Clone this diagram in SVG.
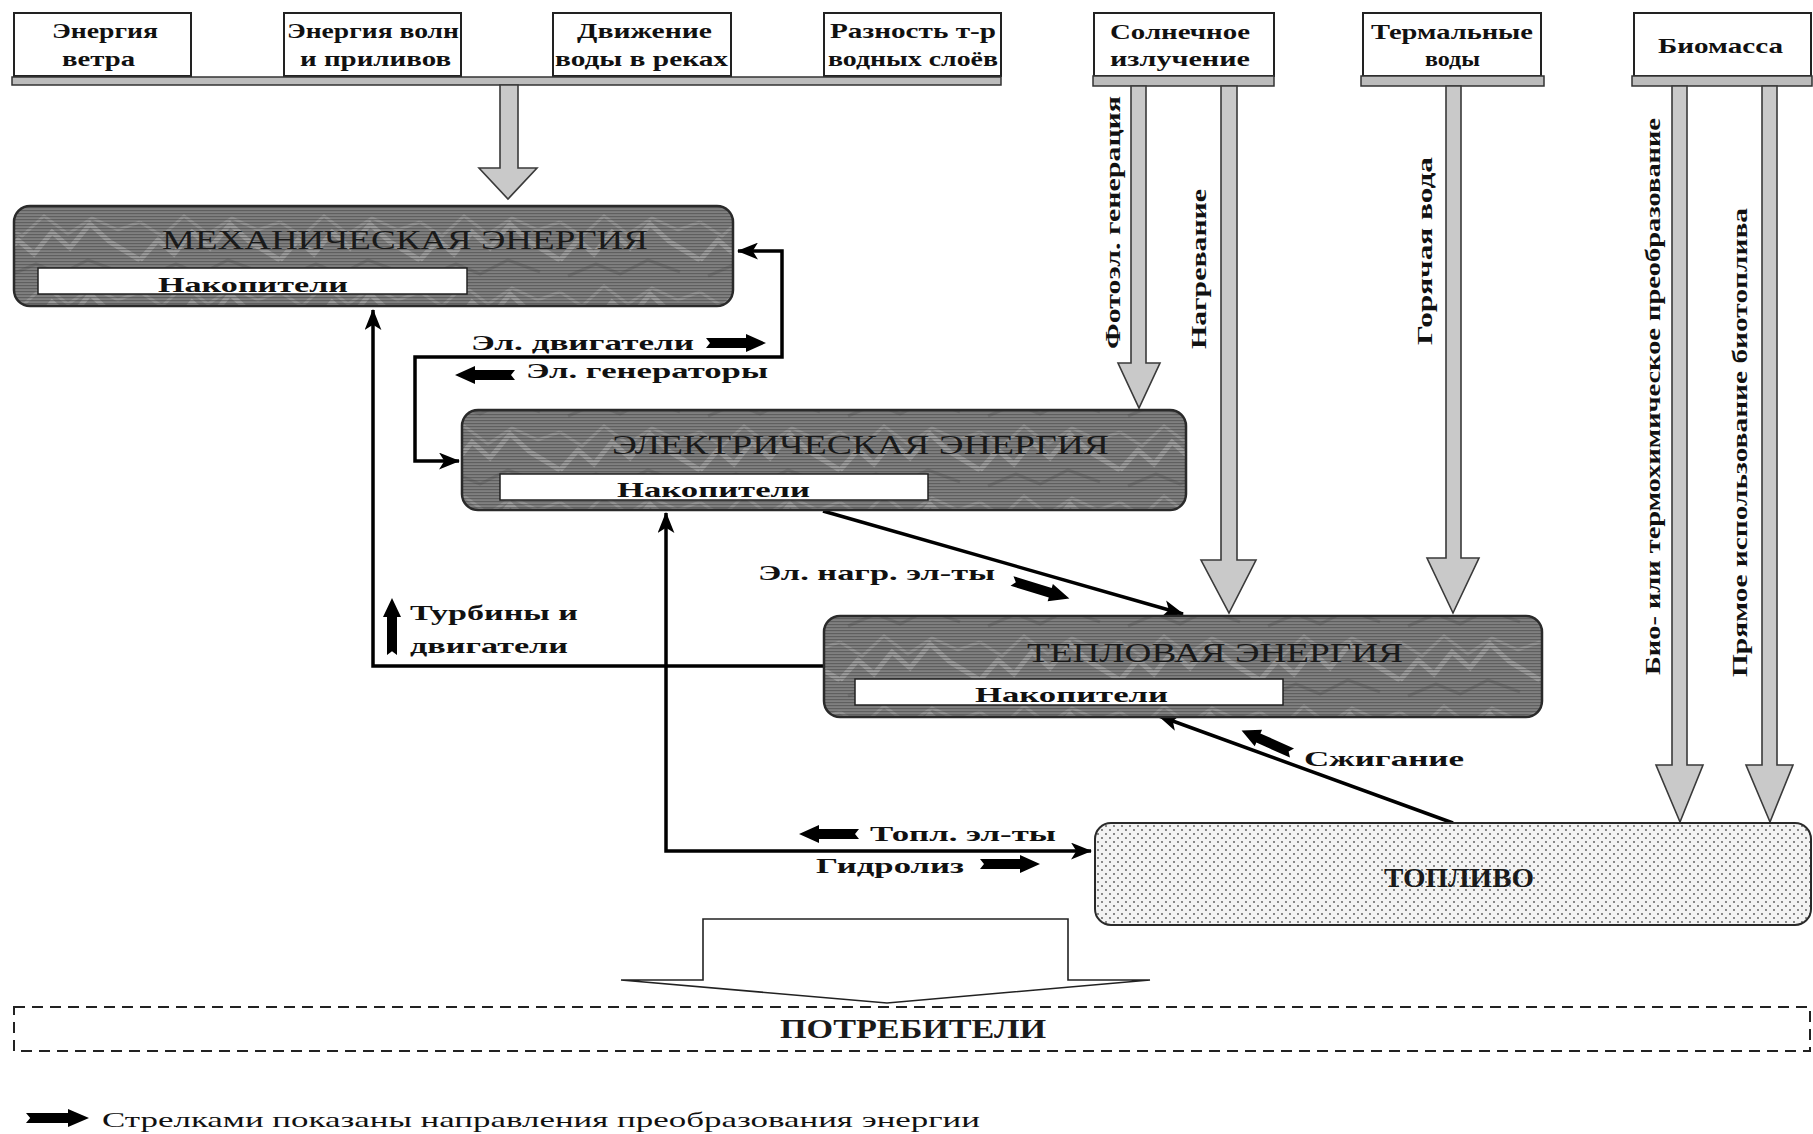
<svg xmlns="http://www.w3.org/2000/svg" width="1813" height="1134" viewBox="0 0 1813 1134">
<style>
.src{fill:#fff;stroke:#222;stroke-width:2}
.bar{fill:#bcbcbc;stroke:#333;stroke-width:1.5}
.garrow{fill:#c9c9c9;stroke:#3a3a3a;stroke-width:1.6;stroke-linejoin:miter}
.t{font-family:"Liberation Serif","DejaVu Serif",serif;fill:#111}
.st{font-size:21px;font-weight:bold}
.title{font-size:28px;fill:#1a1a1a}
.acc{fill:#fff;stroke:#222;stroke-width:1.5}
.boxfill{fill:url(#stone)}
.boxlines{fill:url(#hlines);stroke:#2a2a2a;stroke-width:2.5}
.conn{fill:none;stroke:#000;stroke-width:3.5}
.lbl{font-size:22px;font-weight:bold}
.fat{fill:#000}
</style>
<defs>
<pattern id="stone" width="140" height="70" patternUnits="userSpaceOnUse">
<rect width="140" height="70" fill="#808080"/>
<path d="M0,50 L18,30 L34,44 L52,22 L70,38 L90,14 L110,32 L140,50" stroke="#b2b2b2" stroke-width="5" fill="none" opacity="0.6"/>
<path d="M0,12 L22,26 L44,6 L68,24 L92,8 L118,20 L140,12" stroke="#a6a6a6" stroke-width="3" fill="none" opacity="0.55"/>
<path d="M8,66 L36,54 L60,64 L88,50 L120,62" stroke="#666" stroke-width="3" fill="none" opacity="0.6"/>
</pattern>
<pattern id="hlines" width="6" height="3" patternUnits="userSpaceOnUse">
<rect width="6" height="1.2" fill="#3e3e3e" opacity="0.5"/>
</pattern>
<pattern id="dots" width="8" height="8" patternUnits="userSpaceOnUse">
<rect width="8" height="8" fill="#f3f3f3"/>
<circle cx="2" cy="2" r="0.9" fill="#555"/>
<circle cx="6" cy="6" r="0.9" fill="#555"/>
</pattern>
<marker id="ah" viewBox="0 0 20 16" refX="19" refY="8" markerWidth="21" markerHeight="17" markerUnits="userSpaceOnUse" orient="auto-start-reverse">
<path d="M0,0 L20,8 L0,16 L5,8 Z" fill="#000"/>
</marker>
<path id="fat" d="M0,-5 L40,-5 L40,-9 L60,0 L40,9 L40,5 L0,5 L4,0 Z"/>
</defs>

<g id="sources">
<g id="src-wind"><rect class="src" x="14" y="13" width="177" height="63"/>
<text class="t st" x="52" y="38" textLength="106" lengthAdjust="spacingAndGlyphs">Энергия</text>
<text class="t st" x="62" y="66" textLength="73" lengthAdjust="spacingAndGlyphs">ветра</text></g>
<g id="src-waves"><rect class="src" x="284" y="13" width="177" height="63"/>
<text class="t st" x="287" y="38" textLength="172" lengthAdjust="spacingAndGlyphs">Энергия волн</text>
<text class="t st" x="300" y="66" textLength="151" lengthAdjust="spacingAndGlyphs">и приливов</text></g>
<g id="src-rivers"><rect class="src" x="553" y="13" width="178" height="63"/>
<text class="t st" x="577" y="38" textLength="135" lengthAdjust="spacingAndGlyphs">Движение</text>
<text class="t st" x="555" y="66" textLength="173" lengthAdjust="spacingAndGlyphs">воды в реках</text></g>
<g id="src-temp"><rect class="src" x="824" y="13" width="177" height="63"/>
<text class="t st" x="830" y="38" textLength="166" lengthAdjust="spacingAndGlyphs">Разность т-р</text>
<text class="t st" x="828" y="66" textLength="170" lengthAdjust="spacingAndGlyphs">водных слоёв</text></g>
<rect class="bar" x="12" y="77" width="989" height="8"/>
<polygon class="garrow" points="500,85 518,85 518,168 537,168 508,199 479,168 500,168"/>

<g id="src-solar"><rect class="src" x="1094" y="13" width="180" height="63"/>
<text class="t st" x="1110" y="39" textLength="140" lengthAdjust="spacingAndGlyphs">Солнечное</text>
<text class="t st" x="1110" y="66" textLength="140" lengthAdjust="spacingAndGlyphs">излучение</text>
<rect class="bar" x="1093" y="76" width="181" height="10"/></g>
<g id="src-thermalwater"><rect class="src" x="1363" y="13" width="178" height="63"/>
<text class="t st" x="1371" y="39" textLength="162" lengthAdjust="spacingAndGlyphs">Термальные</text>
<text class="t st" x="1425" y="66" textLength="55" lengthAdjust="spacingAndGlyphs">воды</text>
<rect class="bar" x="1361" y="76" width="183" height="10"/></g>
<g id="src-biomass"><rect class="src" x="1634" y="13" width="177" height="63"/>
<text class="t st" x="1658" y="53" textLength="125" lengthAdjust="spacingAndGlyphs">Биомасса</text>
<rect class="bar" x="1632" y="76" width="180" height="10"/></g>

<polygon class="garrow" points="1131,86 1146,86 1146,363 1160,363 1139,408 1118,363 1131,363"/>
<polygon class="garrow" points="1221,86 1237,86 1237,560 1256,560 1229,613 1201,560 1221,560"/>
<polygon class="garrow" points="1446,86 1461,86 1461,558 1479,558 1453,613 1427,558 1446,558"/>
<polygon class="garrow" points="1672,86 1687,86 1687,765 1703,765 1680,822 1656,765 1672,765"/>
<polygon class="garrow" points="1762,86 1777,86 1777,765 1793,765 1770,822 1746,765 1762,765"/>

<text class="t lbl" transform="translate(1120,349) rotate(-90)" textLength="253" lengthAdjust="spacingAndGlyphs">Фотоэл. генерация</text>
<text class="t lbl" transform="translate(1206,349) rotate(-90)" textLength="160" lengthAdjust="spacingAndGlyphs">Нагревание</text>
<text class="t lbl" transform="translate(1432,345) rotate(-90)" textLength="188" lengthAdjust="spacingAndGlyphs">Горячая вода</text>
<text class="t lbl" transform="translate(1660,675) rotate(-90)" textLength="557" lengthAdjust="spacingAndGlyphs">Био- или термохимическое преобразование</text>
<text class="t lbl" transform="translate(1747,677) rotate(-90)" textLength="469" lengthAdjust="spacingAndGlyphs">Прямое использование биотоплива</text>
</g>

<g id="connectors">
<path class="conn" d="M738,251 H782 V357 H415 V461 H459" marker-start="url(#ah)" marker-end="url(#ah)"/>
<path class="conn" d="M823,666 H373 V310" marker-end="url(#ah)"/>
<path class="conn" d="M666,513 V851 H1091" marker-start="url(#ah)" marker-end="url(#ah)"/>
<path class="conn" d="M823,511 L1183,614" marker-end="url(#ah)"/>
<path class="conn" d="M1453,823 L1159,716" marker-end="url(#ah)"/>
<path d="M621,980 H703 V919 H1068 V980 H1150 L887,1003 Z" fill="#fff" stroke="#222" stroke-width="1.6"/>
</g>

<g id="labels">
<text class="t lbl" x="471" y="350" textLength="223" lengthAdjust="spacingAndGlyphs">Эл. двигатели</text>
<use href="#fat" class="fat" transform="translate(706,343)"/>
<use href="#fat" class="fat" transform="translate(515,375) rotate(180)"/>
<text class="t lbl" x="526" y="378" textLength="242" lengthAdjust="spacingAndGlyphs">Эл. генераторы</text>
<use href="#fat" class="fat" transform="translate(392,655) rotate(-90) scale(0.95,1)"/>
<text class="t lbl" x="410" y="620" textLength="168" lengthAdjust="spacingAndGlyphs">Турбины и</text>
<text class="t lbl" x="410" y="653" textLength="158" lengthAdjust="spacingAndGlyphs">двигатели</text>
<text class="t lbl" x="758" y="580" textLength="237" lengthAdjust="spacingAndGlyphs">Эл. нагр. эл-ты</text>
<use href="#fat" class="fat" transform="translate(1012,581) rotate(17)"/>
<use href="#fat" class="fat" transform="translate(1292,753) rotate(204) scale(0.92,1)"/>
<text class="t lbl" x="1304" y="766" textLength="160" lengthAdjust="spacingAndGlyphs">Сжигание</text>
<use href="#fat" class="fat" transform="translate(859,834) rotate(180)"/>
<text class="t lbl" x="870" y="841" textLength="186" lengthAdjust="spacingAndGlyphs">Топл. эл-ты</text>
<text class="t lbl" x="816" y="873" textLength="148" lengthAdjust="spacingAndGlyphs">Гидролиз</text>
<use href="#fat" class="fat" transform="translate(980,864)"/>
</g>

<g id="mech">
<rect class="boxfill" x="14" y="206" width="719" height="100" rx="16"/>
<rect class="boxlines" x="14" y="206" width="719" height="100" rx="16"/>
<text class="t title" x="162" y="249" textLength="486" lengthAdjust="spacingAndGlyphs">МЕХАНИЧЕСКАЯ ЭНЕРГИЯ</text>
<rect class="acc" x="38" y="268" width="429" height="26"/>
<text class="t lbl" x="158" y="292" font-size="24" textLength="190" lengthAdjust="spacingAndGlyphs">Накопители</text>
</g>

<g id="elec">
<rect class="boxfill" x="462" y="410" width="724" height="100" rx="16"/>
<rect class="boxlines" x="462" y="410" width="724" height="100" rx="16"/>
<text class="t title" x="612" y="454" textLength="497" lengthAdjust="spacingAndGlyphs">ЭЛЕКТРИЧЕСКАЯ ЭНЕРГИЯ</text>
<rect class="acc" x="500" y="474" width="428" height="26"/>
<text class="t lbl" x="617" y="497" textLength="193" lengthAdjust="spacingAndGlyphs">Накопители</text>
</g>

<g id="thermal">
<rect class="boxfill" x="824" y="616" width="718" height="101" rx="16"/>
<rect class="boxlines" x="824" y="616" width="718" height="101" rx="16"/>
<text class="t title" x="1027" y="662" textLength="376" lengthAdjust="spacingAndGlyphs">ТЕПЛОВАЯ ЭНЕРГИЯ</text>
<rect class="acc" x="855" y="679" width="428" height="26"/>
<text class="t lbl" x="975" y="702" textLength="193" lengthAdjust="spacingAndGlyphs">Накопители</text>
</g>

<g id="fuel">
<rect x="1095" y="823" width="716" height="102" rx="16" fill="url(#dots)" stroke="#2a2a2a" stroke-width="2"/>
<text class="t title" x="1384" y="887" font-weight="bold" textLength="150" lengthAdjust="spacingAndGlyphs">ТОПЛИВО</text>
</g>

<g id="consumers">
<rect x="14" y="1007" width="1796" height="44" fill="none" stroke="#222" stroke-width="2" stroke-dasharray="11 7"/>
<text class="t title" x="780" y="1038" font-weight="bold" textLength="266" lengthAdjust="spacingAndGlyphs">ПОТРЕБИТЕЛИ</text>
</g>

<g id="legend">
<use href="#fat" class="fat" transform="translate(26,1118) scale(1.05,1)"/>
<text class="t" x="102" y="1127" font-size="22" textLength="878" lengthAdjust="spacingAndGlyphs">Стрелками показаны направления преобразования энергии</text>
</g>
</svg>
